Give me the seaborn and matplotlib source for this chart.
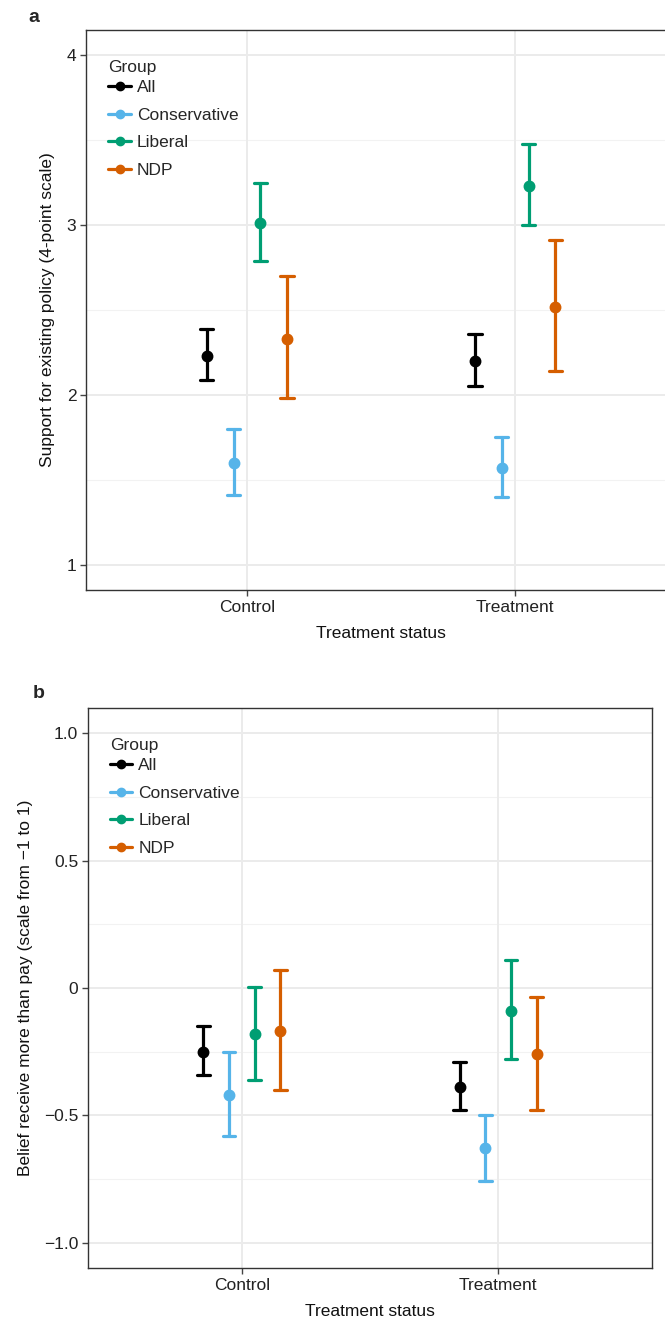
import numpy as np
import pandas as pd
import matplotlib
matplotlib.use("Agg")
import matplotlib.pyplot as plt
from matplotlib.lines import Line2D
import seaborn as sns

conditions = ["Control", "Treatment"]
groups = ["All", "Conservative", "Liberal", "NDP"]
colors = ["#000000", "#56B4E9", "#009E73", "#D55E00"]

# Panel a: support for existing policy (mean, lower, upper), order: groups x conditions
a_mean = {"Control": [2.23, 1.60, 3.01, 2.33], "Treatment": [2.20, 1.57, 3.23, 2.52]}
a_low = {"Control": [2.09, 1.41, 2.79, 1.98], "Treatment": [2.05, 1.40, 3.00, 2.14]}
a_high = {"Control": [2.39, 1.80, 3.25, 2.70], "Treatment": [2.36, 1.75, 3.48, 2.91]}

# Panel b: belief receive more than pay
b_mean = {"Control": [-0.25, -0.42, -0.18, -0.17], "Treatment": [-0.39, -0.63, -0.09, -0.26]}
b_low = {"Control": [-0.34, -0.58, -0.36, -0.40], "Treatment": [-0.48, -0.76, -0.28, -0.48]}
b_high = {"Control": [-0.15, -0.25, 0.005, 0.07], "Treatment": [-0.29, -0.50, 0.11, -0.035]}

a_ticks = [1, 2, 3, 4]
a_ticklabels = ["1", "2", "3", "4"]
b_ticks = [-1.0, -0.5, 0.0, 0.5, 1.0]
b_ticklabels = ["\u22121.0", "\u22120.5", "0", "0.5", "1.0"]


def build_df(mean, low, high):
    rows = []
    for c in conditions:
        for i, g in enumerate(groups):
            for v in (low[c][i], mean[c][i], high[c][i]):
                rows.append({"cond": c, "group": g, "val": v})
    return pd.DataFrame(rows)


sns.set_theme(style="white")
plt.rcParams["font.family"] = ["Liberation Sans", "DejaVu Sans"]

W, H = 665, 1323
fig = plt.figure(figsize=(W / 100, H / 100), dpi=100)
ax_a = fig.add_axes([86 / W, 1 - 590 / H, 590 / W, 560 / H])
ax_b = fig.add_axes([88 / W, 1 - 1268 / H, 564 / W, 560 / H])

grid_c = "#ebebeb"
FS = 12.5


def draw(ax, df, ylim, ticks, ticklabels, minor, ylabel):
    ax.set_axisbelow(True)
    for m in minor:
        ax.axhline(m, color="#f2f2f2", lw=0.8, zorder=0)
    for t in ticks:
        ax.axhline(t, color=grid_c, lw=1.4, zorder=0)
    for xi in range(len(conditions)):
        ax.axvline(xi, color=grid_c, lw=1.4, zorder=0)
    sns.pointplot(data=df, x="cond", y="val", hue="group", order=conditions,
                  hue_order=groups, palette=colors, estimator="median",
                  errorbar=("pi", 100), dodge=0.3, linestyle="none",
                  markers="o", markersize=6.5, capsize=0.05, err_kws={"linewidth": 2.3},
                  ax=ax, legend=False)
    ax.set_xlim(-0.6, 1.6)
    ax.set_ylim(*ylim)
    ax.set_yticks(ticks)
    ax.set_yticklabels(ticklabels)
    ax.set_xlabel("Treatment status", fontsize=FS, labelpad=8, color="#111111")
    ax.set_ylabel(ylabel, fontsize=FS, labelpad=8, color="#111111")
    ax.tick_params(axis="both", which="major", length=4, width=1, color="#444444",
                   labelsize=FS, labelcolor="#222222", bottom=True, left=True, pad=3)
    for s in ax.spines.values():
        s.set_color("#333333")
        s.set_linewidth(1.0)
    handles = [Line2D([0], [0], color=c, marker="o", markersize=6, lw=2.3) for c in colors]
    leg = ax.legend(handles, groups, title="Group", loc="upper left",
                    bbox_to_anchor=(0.02, 0.965), frameon=False, fontsize=FS,
                    title_fontsize=FS, handlelength=1.3, handletextpad=0.35,
                    labelspacing=0.72, borderaxespad=0.2)
    leg._legend_box.align = "left"
    leg._legend_box.sep = 3.5


draw(ax_a, build_df(a_mean, a_low, a_high), (0.85, 4.15), a_ticks, a_ticklabels,
     [1.5, 2.5, 3.5], "Support for existing policy (4-point scale)")
draw(ax_b, build_df(b_mean, b_low, b_high), (-1.1, 1.1), b_ticks, b_ticklabels,
     [-0.75, -0.25, 0.25, 0.75], "Belief receive more than pay (scale from \u22121 to 1)")

fig.text(28 / W, 1 - 18 / H, "a", fontsize=14, fontweight="bold", va="center", ha="left")
fig.text(33 / W, 1 - 694 / H, "b", fontsize=14, fontweight="bold", va="center", ha="left")

fig.savefig("out.png", dpi=100)
